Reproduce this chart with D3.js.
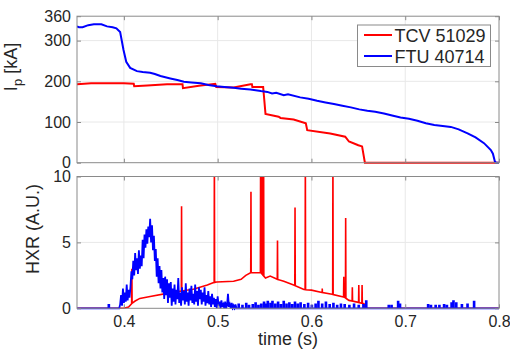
<!DOCTYPE html>
<html><head><meta charset="utf-8">
<script src="https://cdn.jsdelivr.net/npm/d3@7"></script>
<style>
body{margin:0;background:#fff;}
svg{display:block;font-family:"Liberation Sans",Arial,Helvetica,sans-serif;}
</style></head>
<body><svg id="c" width="510" height="350"></svg>
<script>
// ---------- data ----------
const timeDomain = [0.35, 0.8];
const timeTicks = [0.4, 0.5, 0.6, 0.7, 0.8];
const ipTicks = [0, 100, 200, 300, 360];
const ipGrid = [100, 200, 300];
const hxrTicks = [0, 5, 10];
const hxrGrid = [5];
const seriesNames = ["TCV 51029", "FTU 40714"];
const seriesColors = ["#ff0000", "#0000ff"];

// plasma current [t (s), kA]
const tcvIp = [[0.350,193],[0.365,195],[0.380,195],[0.400,195],[0.4105,194],[0.411,188],[0.425,190],[0.446,193],[0.4625,193],[0.463,183],[0.480,189],[0.4975,194],[0.4985,186],[0.517,185],[0.535,193],[0.5365,193],[0.537,186],[0.5485,186],[0.551,120],[0.565,113],[0.567,110],[0.581,106],[0.594,97],[0.5955,80],[0.620,72],[0.636,64],[0.640,52],[0.650,43],[0.654,40],[0.657,0],[0.800,0]];
const ftuIp = [[0.350,335],[0.352,333],[0.356,333],[0.362,338],[0.368,340],[0.376,340],[0.382,335],[0.388,333],[0.392,330],[0.396,321],[0.3996,277],[0.4025,248],[0.4067,233],[0.4139,225],[0.420,223],[0.428,221],[0.433,218],[0.439,213],[0.4495,207],[0.457,203],[0.464,199],[0.472,197],[0.482,195],[0.490,191],[0.499,188],[0.507,186],[0.517,184],[0.525,182],[0.535,180],[0.546,176],[0.553,174],[0.558,170],[0.5625,172],[0.5705,166],[0.575,168],[0.588,160.5],[0.597,157],[0.606,152],[0.615,148],[0.624,144],[0.633,140],[0.642,136],[0.651,131],[0.6596,127.6],[0.668,125],[0.6773,121],[0.686,116],[0.695,111],[0.704,108],[0.713,103],[0.722,97],[0.731,92.5],[0.740,90],[0.7486,88],[0.757,82],[0.7665,72],[0.775,62],[0.784,48],[0.7913,31],[0.7935,22],[0.7956,3],[0.797,0],[0.800,0]];

// HXR TCV: slow baseline [t, A.U.] and sharp spikes [t, peak]
const tcvHxrBase = [[0.350,0],[0.400,0],[0.405,0.1],[0.409,0.4],[0.412,0.55],[0.417,0.75],[0.428,0.9],[0.446,1.13],[0.460,1.3],[0.474,1.45],[0.489,1.76],[0.4957,1.95],[0.499,2.0],[0.517,2.05],[0.525,2.2],[0.530,2.5],[0.535,2.7],[0.546,2.7],[0.551,2.3],[0.556,2.45],[0.5635,2.2],[0.5705,2.05],[0.581,1.76],[0.592,1.42],[0.600,1.38],[0.6115,1.2],[0.622,1.06],[0.635,0.85],[0.640,0.6],[0.650,0.45],[0.656,0.35],[0.657,0],[0.800,0]];
const tcvHxrSpikes = [[0.4085,3.0],[0.4615,7.75],[0.4965,12],[0.5355,8.85],[0.5458,12],[0.5465,12],[0.5472,12],[0.5480,12],[0.5490,12],[0.5638,5.15],[0.5825,7.65],[0.5935,12],[0.6115,1.5],[0.6229,12],[0.6345,2.4],[0.6365,6.85],[0.6436,1.6],[0.6505,1.76],[0.6540,1.76]];

// HXR FTU: noisy trace sampled every 1 ms from 0.395 s
const ftuHxrStart = 0.395;
const ftuHxrStep = 0.001;
const ftuHxrNoisy = [0,0.3,1.0,0.2,1.5,0.4,1.2,0.5,1.8,0.6,1.4,0.8,1.6,2.8,2.2,3.6,2.5,4.2,2.9,3.8,2.6,4.4,3.0,4.0,3.2,5.2,3.8,5.6,4.6,6.0,4.9,6.2,5.4,6.8,5.0,6.3,4.4,5.5,3.6,4.5,2.4,3.8,1.9,3.2,1.5,2.9,1.2,2.3,0.7,2.4,1.0,2.2,0.4,1.9,0.8,2.0,0.2,1.5,0.5,1.8,0.3,1.4,0.7,2.3,0.4,1.2,0.2,1.6,0.6,1.3,0.3,1.9,0.5,1.2,0.2,1.5,0.6,1.7,0.4,1.1,0.3,1.8,0.5,1.3,0.2,1.6,0.7,1.4,0.3,1.2,0.5,1.6,0.2,1.0,0.4,1.3,0.3,0.9,0.1,1.1,0.3,0.8,0.1,0.7,0.0,0.9,0.2,0.5,0.0,0.6,0.1,0.3,0.0,0.5,0.0,0.2,1.1,0.1,0.3,0.0,0.4,0.0,0.2,0.0,0.3,0.0];
// isolated small bursts on the zero baseline: [t, height]
const ftuHxrBlips = [[0.3835,0.25],[0.522,0.3],[0.526,0.2],[0.530,0.35],[0.533,0.2],[0.537,0.25],[0.540,0.4],[0.543,0.2],[0.546,0.3],[0.549,0.45],[0.551,0.3],[0.553,0.5],[0.556,0.35],[0.558,0.5],[0.561,0.3],[0.564,0.45],[0.567,0.25],[0.570,0.5],[0.573,0.3],[0.576,0.4],[0.579,0.25],[0.582,0.45],[0.585,0.3],[0.588,0.4],[0.592,0.25],[0.596,0.35],[0.600,0.2],[0.604,0.3],[0.607,0.5],[0.611,0.3],[0.615,0.45],[0.619,0.25],[0.623,0.35],[0.627,0.2],[0.631,0.3],[0.635,0.25],[0.640,0.2],[0.645,0.3],[0.650,0.2],[0.655,0.25],[0.658,0.55],[0.682,0.2],[0.685,0.2],[0.692,0.5],[0.694,0.3],[0.724,0.25],[0.727,0.2],[0.732,0.2],[0.736,0.2],[0.741,0.25],[0.744,0.2],[0.749,0.4],[0.751,0.55],[0.754,0.4],[0.760,0.25],[0.766,0.3],[0.773,0.5]];

// ---------- build derived series ----------
function interp(arr, t){
  for(let i=1;i<arr.length;i++){
    if(t<=arr[i][0]){const a=arr[i-1],b=arr[i];return a[1]+(b[1]-a[1])*(t-a[0])/(b[0]-a[0]);}
  }
  return arr[arr.length-1][1];
}
const tcvHxr = tcvHxrBase.slice();
const sw = 0.00025;
tcvHxrSpikes.forEach(([t,v])=>{
  tcvHxr.push([t-sw, interp(tcvHxrBase,t-sw)],[t,v],[t+sw, interp(tcvHxrBase,t+sw)]);
});
tcvHxr.sort((a,b)=>a[0]-b[0]);

const ftuHxr = [[0.35,0]];
const bw = 0.0009;
ftuHxrBlips.filter(d=>d[0]<ftuHxrStart).forEach(([t,v])=>{ftuHxr.push([t,0],[t,v],[t+bw,v],[t+bw,0]);});
ftuHxrNoisy.forEach((v,i)=>ftuHxr.push([ftuHxrStart+i*ftuHxrStep, v]));
ftuHxrBlips.filter(d=>d[0]>=ftuHxrStart).forEach(([t,v])=>{ftuHxr.push([t,0],[t,v],[t+bw,v],[t+bw,0]);});
ftuHxr.push([0.8,0]);

// ---------- layout ----------
const svg = d3.select("#c");
const X0 = 77, X1 = 499;
const pTop = {y0:16.2, y1:162.7};
const pBot = {y0:176.5, y1:308.3};
const axisCol = "#8a8a8a", gridCol = "#e8e8e8", textCol = "#262626";

const x = d3.scaleLinear().domain(timeDomain).range([X0, X1]);
const yIp = d3.scaleLinear().domain([0,360]).range([pTop.y1, pTop.y0]);
const yH = d3.scaleLinear().domain([0,10]).range([pBot.y1, pBot.y0]);

const defs = svg.append("defs");
defs.append("clipPath").attr("id","clipTop").append("rect")
  .attr("x",X0).attr("y",pTop.y0).attr("width",X1-X0).attr("height",pTop.y1-pTop.y0+2);
defs.append("clipPath").attr("id","clipBot").append("rect")
  .attr("x",X0).attr("y",pBot.y0).attr("width",X1-X0).attr("height",pBot.y1-pBot.y0+2);

function grid(p, y, gridVals){
  const g = svg.append("g");
  g.selectAll("line.gx").data(timeTicks.filter(t=>t<0.8)).enter().append("line")
    .attr("x1",d=>x(d)).attr("x2",d=>x(d)).attr("y1",p.y0).attr("y2",p.y1)
    .attr("stroke",gridCol).attr("stroke-width",1);
  g.selectAll("line.gy").data(gridVals).enter().append("line")
    .attr("x1",X0).attr("x2",X1).attr("y1",d=>y(d)).attr("y2",d=>y(d))
    .attr("stroke",gridCol).attr("stroke-width",1);
}
function frame(p, y, yTicks, showX){
  const g = svg.append("g");
  const ga = g.append("g").attr("transform",`translate(${X0},0)`)
    .call(d3.axisLeft(y).tickValues(yTicks).tickSize(-4).tickPadding(6).tickFormat(d3.format("d")));
  const gr = g.append("g").attr("transform",`translate(${X1},0)`)
    .call(d3.axisRight(y).tickValues(yTicks).tickSize(-4).tickFormat(""));
  const gb = g.append("g").attr("transform",`translate(0,${p.y1})`)
    .call(d3.axisBottom(x).tickValues(timeTicks).tickSize(-4).tickPadding(7.5).tickFormat(showX? d3.format(".1f") : ""));
  const gt = g.append("g").attr("transform",`translate(0,${p.y0})`)
    .call(d3.axisTop(x).tickValues(timeTicks).tickSize(-4).tickFormat(""));
  [ga,gr,gb,gt].forEach(s=>{
    s.select(".domain").remove();
    s.selectAll(".tick line").attr("stroke",axisCol);
    s.selectAll("text").attr("fill",textCol).style("font-size","16px").style("font-family",'"Liberation Sans",Arial,sans-serif');
  });
  g.append("rect").attr("x",X0).attr("y",p.y0).attr("width",X1-X0).attr("height",p.y1-p.y0)
    .attr("fill","none").attr("stroke",axisCol).attr("stroke-width",1);
}

const line = (yS)=>d3.line().x(d=>x(d[0])).y(d=>yS(d[1]));

// top panel
grid(pTop, yIp, ipGrid);
const gTop = svg.append("g").attr("clip-path","url(#clipTop)");
gTop.append("path").datum(tcvIp).attr("d",line(yIp)).attr("fill","none").attr("stroke",seriesColors[0]).attr("stroke-width",2);
gTop.append("path").datum(ftuIp).attr("d",line(yIp)).attr("fill","none").attr("stroke",seriesColors[1]).attr("stroke-width",2);
frame(pTop, yIp, ipTicks, false);

// bottom panel
grid(pBot, yH, hxrGrid);
const gBot = svg.append("g").attr("clip-path","url(#clipBot)");
gBot.append("path").datum(tcvHxr).attr("d",line(yH)).attr("fill","none").attr("stroke",seriesColors[0]).attr("stroke-width",1.6);
gBot.append("path").datum(ftuHxr).attr("d",line(yH)).attr("fill","none").attr("stroke",seriesColors[1]).attr("stroke-width",1.8);
frame(pBot, yH, hxrTicks, true);

// axis labels
const yl1 = svg.append("text").attr("transform","translate(17,67) rotate(-90)")
  .attr("text-anchor","middle").attr("fill",textCol).style("font-size","18px");
yl1.append("tspan").text("I");
yl1.append("tspan").attr("dy",5).style("font-size","13px").text("p");
yl1.append("tspan").attr("dy",-5).text(" [kA]");
svg.append("text").attr("transform","translate(39,229) rotate(-90)")
  .attr("text-anchor","middle").attr("fill",textCol).style("font-size","18px").text("HXR (A.U.)");
svg.append("text").attr("x",288).attr("y",345).attr("text-anchor","middle")
  .attr("fill",textCol).style("font-size","18px").text("time (s)");

// legend
const lg = svg.append("g");
lg.append("rect").attr("x",357.5).attr("y",25).attr("width",133).attr("height",41.5)
  .attr("fill","#fff").attr("stroke",axisCol).attr("stroke-width",1);
seriesNames.forEach((n,i)=>{
  const yy = 35 + i*21;
  lg.append("line").attr("x1",364).attr("x2",392).attr("y1",yy).attr("y2",yy)
    .attr("stroke",seriesColors[i]).attr("stroke-width",2);
  lg.append("text").attr("x",394.5).attr("y",yy+6.5).attr("fill",textCol)
    .style("font-size","18px").text(n);
});
</script></body></html>
